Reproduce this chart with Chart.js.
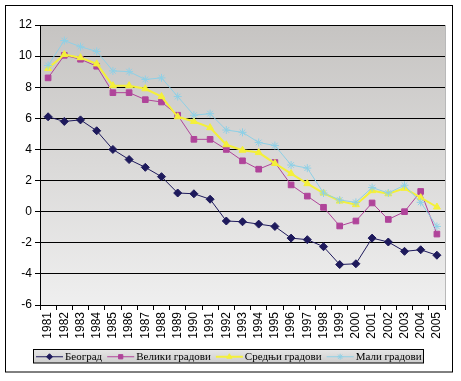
<!DOCTYPE html>
<html>
<head>
<meta charset="utf-8">
<script src="https://cdn.jsdelivr.net/npm/chart.js@4/dist/chart.umd.min.js"></script>
<style>
html,body{margin:0;padding:0;background:#fff;}
#wrap{width:461px;height:381px;position:relative;}
</style>
</head>
<body>
<div id="wrap"><canvas id="c" width="461" height="381"></canvas></div>
<script>
const years = ["1981","1982","1983","1984","1985","1986","1987","1988","1989","1990","1991","1992","1993","1994","1995","1996","1997","1998","1999","2000","2001","2002","2003","2004","2005"];
const seriesNames = ["Београд","Велики градови","Средњи градови","Мали градови"];
const beograd = [6.1,5.8,5.9,5.2,4.0,3.35,2.85,2.25,1.2,1.15,0.8,-0.6,-0.65,-0.8,-0.95,-1.7,-1.8,-2.25,-3.4,-3.35,-1.7,-1.95,-2.55,-2.45,-2.8];
const veliki = [8.6,10.05,9.8,9.35,7.65,7.65,7.2,7.05,6.2,4.65,4.65,4.0,3.27,2.73,3.16,1.72,1.0,0.28,-0.92,-0.6,0.56,-0.5,0.0,1.3,-1.44];
const srednji = [9.2,10.1,9.9,9.5,8.1,8.1,7.9,7.4,6.1,5.8,5.4,4.3,3.95,3.8,3.1,2.45,1.8,1.2,0.68,0.45,1.35,1.15,1.5,0.9,0.3];
const mali = [9.4,11.0,10.6,10.3,9.05,9.0,8.5,8.6,7.4,6.2,6.3,5.25,5.1,4.45,4.25,3.0,2.8,1.2,0.75,0.6,1.55,1.2,1.7,0.6,-0.95];
const yMin = -6, yMax = 12, yStep = 2;

const bgPlugin = {
  id: 'bg',
  beforeDraw(chart) {
    const ctx = chart.ctx, a = chart.chartArea;
    ctx.save();
    ctx.fillStyle = '#ffffff';
    ctx.fillRect(0, 0, chart.width, chart.height);
    const g = ctx.createLinearGradient(0, a.top, 0, a.bottom);
    g.addColorStop(0, '#c6c4c2');
    g.addColorStop(1, '#efefef');
    ctx.fillStyle = g;
    ctx.fillRect(a.left, a.top, a.right - a.left, a.bottom - a.top);
    ctx.strokeStyle = '#b8b8b8';
    ctx.lineWidth = 1;
    ctx.beginPath();
    ctx.moveTo(a.right + 0.5, a.top);
    ctx.lineTo(a.right + 0.5, a.bottom);
    ctx.stroke();
    ctx.strokeStyle = '#000';
    ctx.strokeRect(5.5, 5.5, 447, 366.5);
    ctx.restore();
  },
  afterDraw(chart) {
    const ctx = chart.ctx;
    const x0 = 33.5, y0 = 349.5, x1 = 423.5, y1 = 363;
    ctx.save();
    const g = ctx.createLinearGradient(0, y0, 0, y1);
    g.addColorStop(0, '#e6e6e6');
    g.addColorStop(1, '#cdcdcd');
    ctx.fillStyle = g;
    ctx.fillRect(x0, y0, x1 - x0, y1 - y0);
    ctx.strokeStyle = '#000';
    ctx.lineWidth = 1;
    ctx.strokeRect(x0, y0, x1 - x0, y1 - y0);
    ctx.font = '11px "Liberation Serif", "Times New Roman", serif';
    ctx.textBaseline = 'middle';
    const cy = (y0 + y1) / 2 + 0.5;
    let x = 36;
    chart.data.datasets.forEach((ds) => {
      const lw = 27;
      ctx.strokeStyle = ds.borderColor;
      ctx.lineWidth = ds.borderWidth;
      ctx.beginPath();
      ctx.moveTo(x, cy);
      ctx.lineTo(x + lw, cy);
      ctx.stroke();
      ctx.save();
      ctx.fillStyle = ds.pointBackgroundColor;
      ctx.strokeStyle = ds.pointBorderColor;
      ctx.lineWidth = 1;
      Chart.helpers.drawPoint(ctx, {pointStyle: ds.pointStyle, radius: 3, borderWidth: 1, rotation: 0}, x + lw / 2, cy);
      ctx.restore();
      ctx.fillStyle = '#000';
      ctx.fillText(ds.label, x + lw + 2, cy);
      x += lw + 2 + ctx.measureText(ds.label).width + 5;
    });
    ctx.restore();
  }
};

const mk = (label, data, color, style, lw, radius, order) => ({
  label, data, order,
  borderColor: color,
  backgroundColor: color,
  pointBackgroundColor: color,
  pointBorderColor: color,
  borderWidth: lw,
  pointStyle: style,
  pointRadius: radius,
  pointBorderWidth: 1,
  tension: 0,
  fill: false
});

new Chart(document.getElementById('c'), {
  type: 'line',
  data: {
    labels: years,
    datasets: [
      mk(seriesNames[0], beograd, '#1e1a5c', 'rectRot', 1, 4, 4),
      mk(seriesNames[1], veliki, '#b0449a', 'rect', 1, 4, 3),
      mk(seriesNames[2], srednji, '#f4f03a', 'triangle', 2, 4, 2),
      mk(seriesNames[3], mali, '#8fd0e6', 'star', 1, 4, 1)
    ]
  },
  options: {
    responsive: false,
    animation: false,
    devicePixelRatio: 1,
    layout: { padding: { left: 0, right: 16, top: 25, bottom: 31 } },
    plugins: { legend: { display: false }, tooltip: { enabled: false } },
    scales: {
      x: {
        offset: true,
        afterFit(s) { s.height = 45; },
        grid: { drawOnChartArea: false, drawTicks: true, tickLength: 5, color: '#000', offset: true },
        border: { display: true, color: '#000', width: 1 },
        ticks: {
          autoSkip: false, minRotation: 90, maxRotation: 90, padding: 2,
          color: '#000', font: { family: '"Liberation Sans", Arial, sans-serif', size: 12 }
        }
      },
      y: {
        min: yMin, max: yMax,
        afterFit(s) { s.width = 40; },
        grid: { color: '#000', lineWidth: 1, tickLength: 5, tickColor: '#000' },
        border: { display: true, color: '#000', width: 1 },
        ticks: {
          stepSize: yStep, padding: 3, color: '#000',
          font: { family: '"Liberation Sans", Arial, sans-serif', size: 12 }
        }
      }
    }
  },
  plugins: [bgPlugin]
});
</script>
</body>
</html>
